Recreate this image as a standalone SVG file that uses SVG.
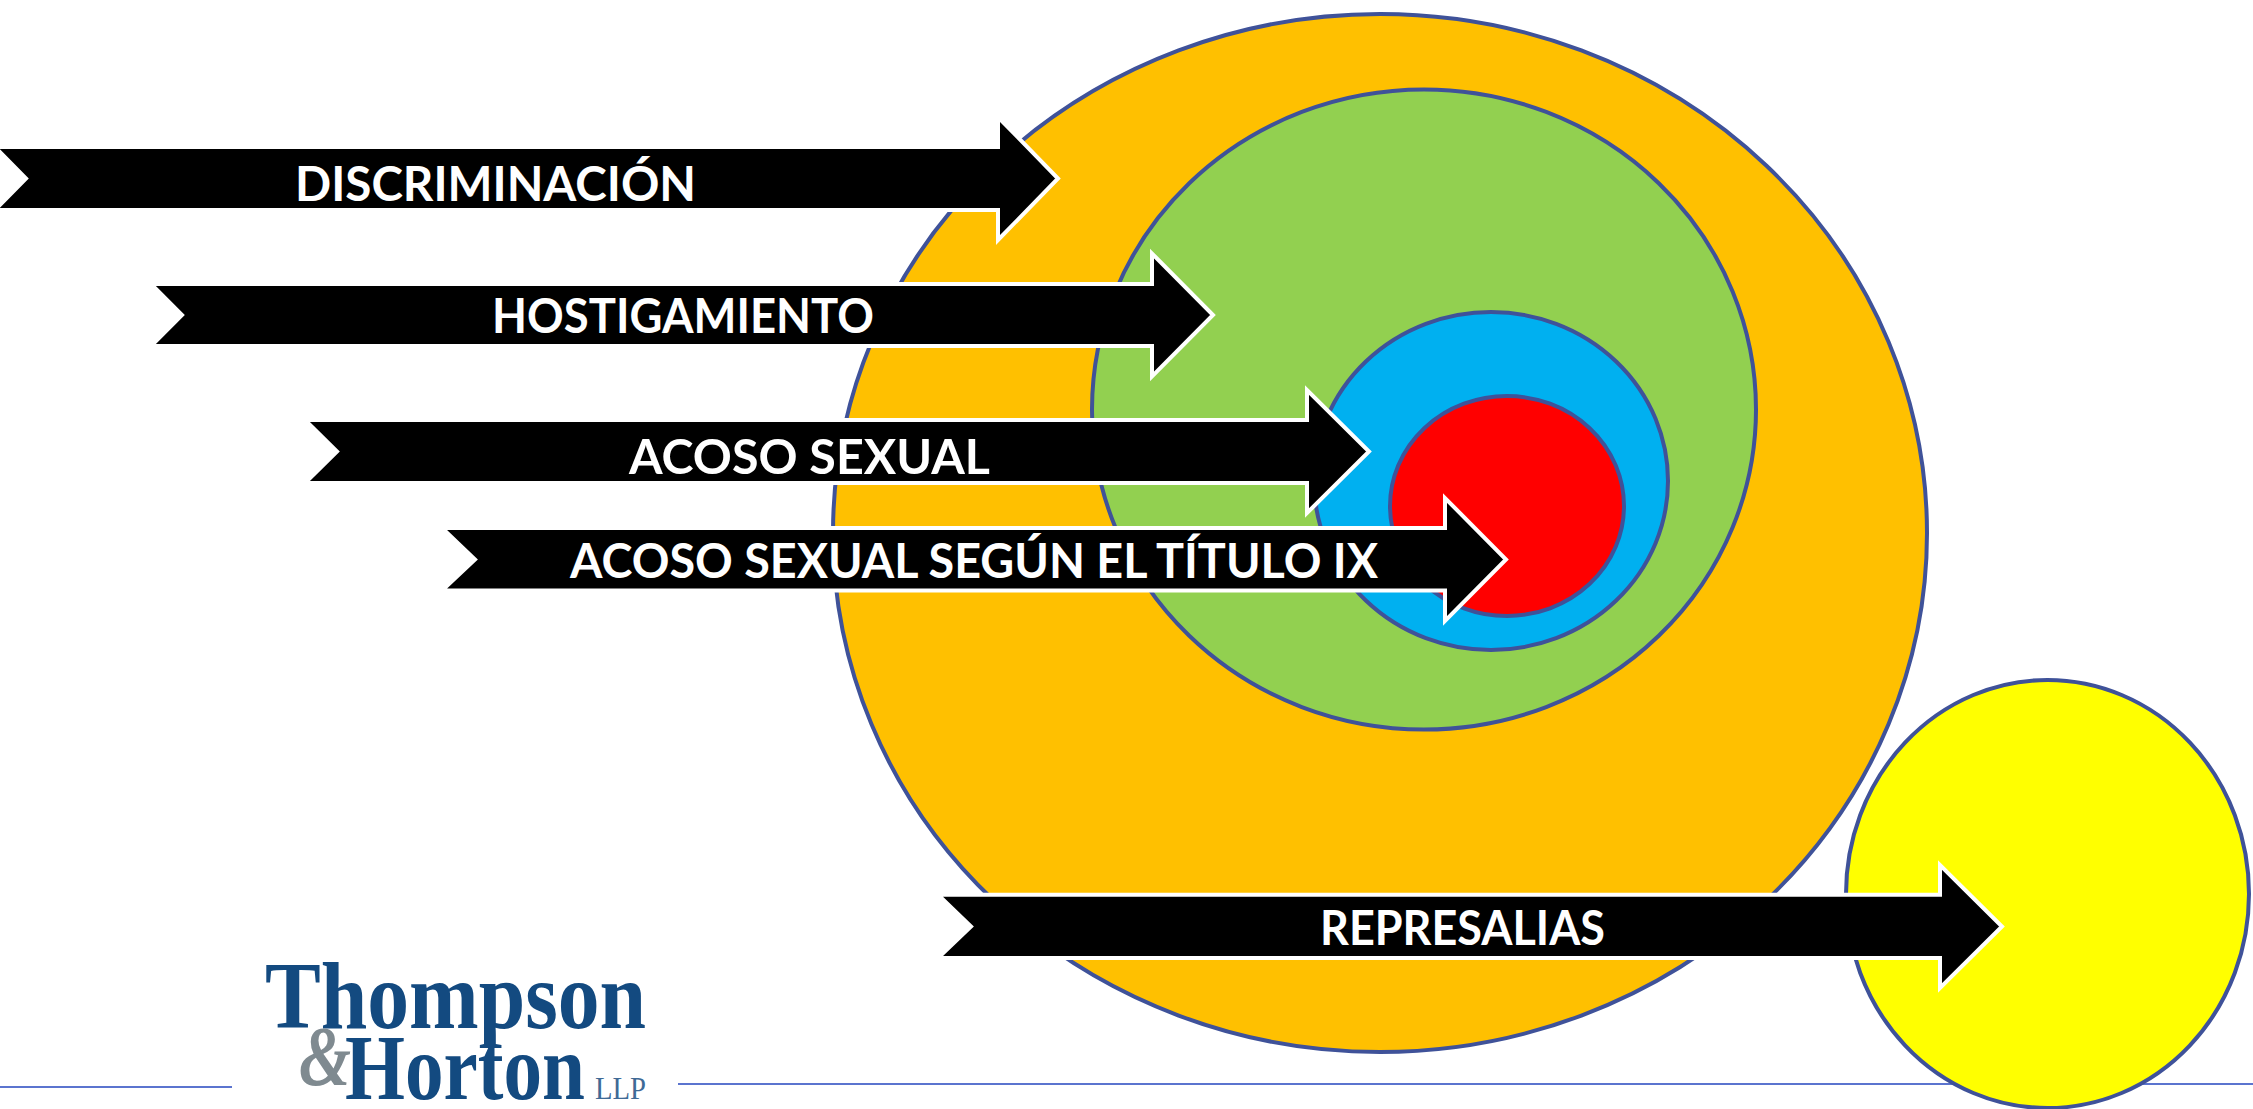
<svg xmlns="http://www.w3.org/2000/svg" width="2253" height="1109" viewBox="0 0 2253 1109">
<style>
.c{stroke:#3f5299;stroke-width:4}
.a{fill:#000;stroke:#fff;stroke-width:4;stroke-miterlimit:10}
.t{fill:#fff;font-family:"Lato","Liberation Sans",sans-serif;font-weight:700;font-size:48px}
.l{fill:#134a80;font-family:"Liberation Serif",serif;font-weight:700}
.r{stroke:#5b74cf;stroke-width:2;fill:none}
</style>
<rect width="2253" height="1109" fill="#fff"/>
<g id="rules"><path class="r" d="M0 1087H232"/><path class="r" d="M678 1084H2253"/></g>
<g id="circle-discriminacion"><ellipse class="c" cx="1380" cy="533" rx="547" ry="519" fill="#ffc000"/></g>
<g id="circle-hostigamiento"><ellipse class="c" cx="1424" cy="409.500" rx="332" ry="320" fill="#92d050"/></g>
<g id="circle-acoso"><ellipse class="c" cx="1491" cy="481" rx="177" ry="169" fill="#00b0f0"/></g>
<g id="circle-titulo-ix"><ellipse class="c" cx="1507" cy="506" rx="117" ry="110" fill="#f00"/></g>
<g id="circle-represalias"><ellipse class="c" cx="2047.500" cy="894" rx="201.500" ry="214" fill="#ff0"/></g>
<g id="connectors">
<path class="a" d="M-5 147H998V117L1058 178.500L998 240V210H-5L26 178.500Z"/>
<path class="a" d="M151 284H1152V253.500L1213 315L1152 376.500V346H151L182 315Z"/>
<path class="a" d="M305 420H1307V390L1369 451.500L1307 513V483H305L337 451.500Z"/>
<path class="a" d="M442 528H1445V498L1506 559.500L1445 621V590.500H442L475 559.500Z"/>
<path class="a" d="M938 894.700H1940V865L2002 926.500L1940 988V958H938L971 926.500Z"/>
</g>
<g id="label-discriminacion"><text class="t" x="295" y="201" textLength="401" lengthAdjust="spacingAndGlyphs">DISCRIMINACIÓN</text></g>
<g id="label-hostigamiento"><text class="t" x="492" y="333" textLength="382" lengthAdjust="spacingAndGlyphs">HOSTIGAMIENTO</text></g>
<g id="label-acoso"><text class="t" x="629" y="474" textLength="361" lengthAdjust="spacingAndGlyphs">ACOSO SEXUAL</text></g>
<g id="label-titulo-ix"><text class="t" x="570" y="578" textLength="808" lengthAdjust="spacingAndGlyphs">ACOSO SEXUAL SEGÚN EL TÍTULO IX</text></g>
<g id="label-represalias"><text class="t" x="1320" y="945" textLength="285" lengthAdjust="spacingAndGlyphs">REPRESALIAS</text></g>
<g id="logo">
<text class="l" x="265" y="1028" font-size="96" textLength="381" lengthAdjust="spacingAndGlyphs">Thompson</text>
<text x="299" y="1085" font-size="84" fill="#7f8a90" font-family="Liberation Serif,serif" font-style="italic" font-weight="700" textLength="52" lengthAdjust="spacingAndGlyphs">&amp;</text>
<text class="l" x="345" y="1099" font-size="94" textLength="240" lengthAdjust="spacingAndGlyphs">Horton</text>
<text x="595" y="1099" font-size="32" fill="#3f6a96" font-family="Liberation Serif,serif" textLength="51" lengthAdjust="spacingAndGlyphs">LLP</text>
</g>
</svg>
